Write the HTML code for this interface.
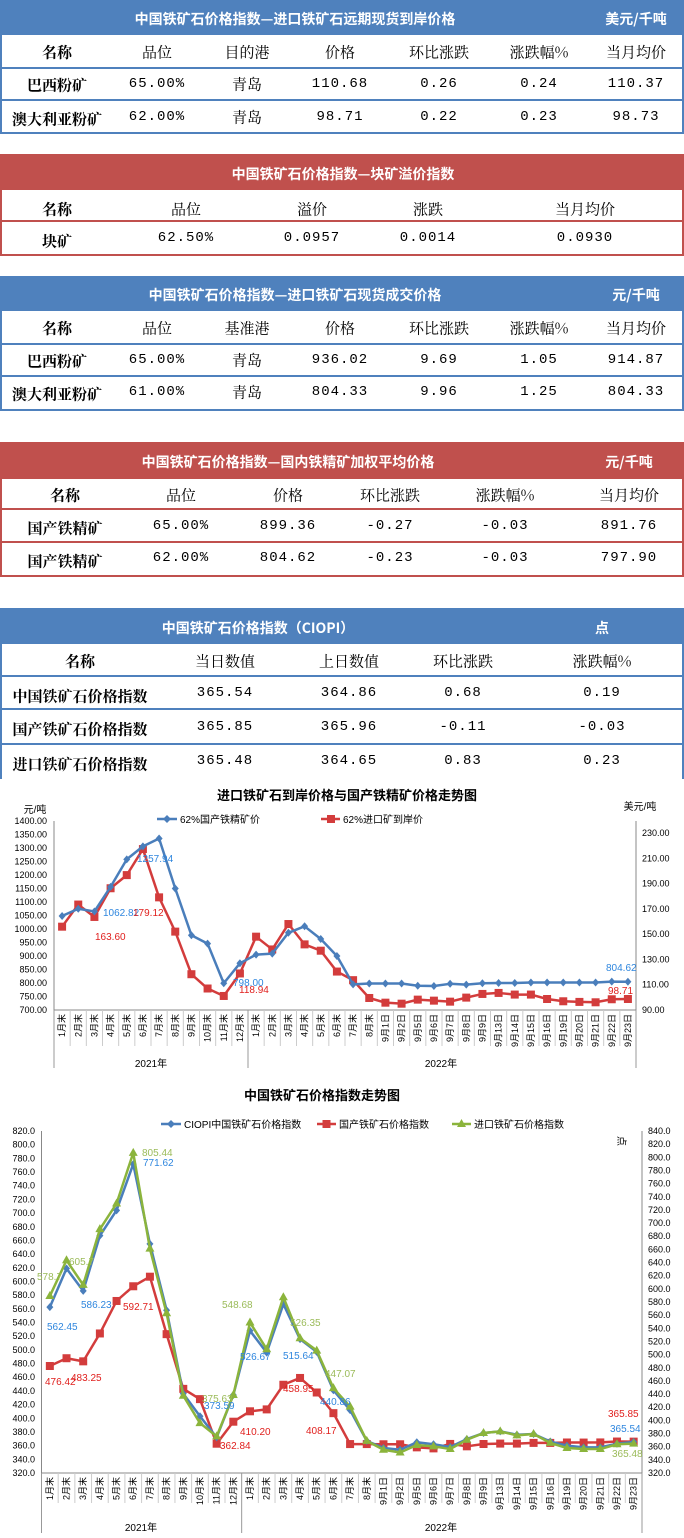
<!DOCTYPE html>
<html><head><meta charset="utf-8">
<style>
*{margin:0;padding:0;box-sizing:border-box}
body{width:684px;height:1538px;position:relative;background:#fff;overflow:hidden;font-family:"Liberation Sans","Noto Sans CJK SC",sans-serif}
.band{position:absolute;left:0;width:684px}
.blue{background:#4f81bd}.red{background:#c0504d}
.box{position:absolute;left:0;width:684px;border:2px solid}
.hl{position:absolute;left:0;width:684px;height:2px}
.t{position:absolute;transform:translate(-50%,-50%);white-space:nowrap;color:#000}
.bt{color:#fff;font-weight:bold;font-size:14px;font-family:"Noto Sans CJK SC",sans-serif}
.h{font-size:15px;font-family:"Noto Serif CJK SC","Noto Sans CJK SC",serif}
.hb{font-size:15px;font-weight:bold;font-family:"Noto Serif CJK SC","Noto Sans CJK SC",serif}
.d{font-size:14px;font-family:"Liberation Mono","Noto Sans CJK SC",monospace;letter-spacing:1px}
.l{font-size:15px;font-weight:bold;font-family:"Noto Serif CJK SC","Noto Sans CJK SC",serif}
svg{position:absolute;left:0;top:0}
svg text{font-family:"Liberation Sans","Noto Sans CJK SC",sans-serif}
</style></head><body>

<!-- Table 1 -->
<div class="band blue" style="top:0;height:34px"></div>
<div class="box" style="top:33px;height:101px;border-color:#4f81bd"></div>
<div class="hl" style="top:67px;background:#4f81bd"></div>
<div class="hl" style="top:99px;background:#4f81bd"></div>
<span class="t bt" style="left:295px;top:19px">中国铁矿石价格指数—进口铁矿石远期现货到岸价格</span>
<span class="t bt" style="left:636px;top:19px">美元/千吨</span>
<span class="t hb" style="left:57px;top:52px">名称</span>
<span class="t h" style="left:157px;top:52px">品位</span>
<span class="t h" style="left:247px;top:52px">目的港</span>
<span class="t h" style="left:340px;top:52px">价格</span>
<span class="t h" style="left:439px;top:52px">环比涨跌</span>
<span class="t h" style="left:539px;top:52px">涨跌幅%</span>
<span class="t h" style="left:636px;top:52px">当月均价</span>
<span class="t l" style="left:57px;top:85px">巴西粉矿</span>
<span class="t d" style="left:157px;top:84px">65.00%</span>
<span class="t h" style="left:247px;top:84px">青岛</span>
<span class="t d" style="left:340px;top:84px">110.68</span>
<span class="t d" style="left:439px;top:84px">0.26</span>
<span class="t d" style="left:539px;top:84px">0.24</span>
<span class="t d" style="left:636px;top:84px">110.37</span>
<span class="t l" style="left:57px;top:119px">澳大利亚粉矿</span>
<span class="t d" style="left:157px;top:117px">62.00%</span>
<span class="t h" style="left:247px;top:117px">青岛</span>
<span class="t d" style="left:340px;top:117px">98.71</span>
<span class="t d" style="left:439px;top:117px">0.22</span>
<span class="t d" style="left:539px;top:117px">0.23</span>
<span class="t d" style="left:636px;top:117px">98.73</span>

<!-- Table 2 -->
<div class="band red" style="top:154px;height:35px"></div>
<div class="box" style="top:188px;height:68px;border-color:#c0504d"></div>
<div class="hl" style="top:220px;background:#c0504d"></div>
<span class="t bt" style="left:343px;top:174px">中国铁矿石价格指数—块矿溢价指数</span>
<span class="t hb" style="left:57px;top:209px">名称</span>
<span class="t h" style="left:186px;top:209px">品位</span>
<span class="t h" style="left:312px;top:209px">溢价</span>
<span class="t h" style="left:428px;top:209px">涨跌</span>
<span class="t h" style="left:585px;top:209px">当月均价</span>
<span class="t l" style="left:57px;top:241px">块矿</span>
<span class="t d" style="left:186px;top:238px">62.50%</span>
<span class="t d" style="left:312px;top:238px">0.0957</span>
<span class="t d" style="left:428px;top:238px">0.0014</span>
<span class="t d" style="left:585px;top:238px">0.0930</span>

<!-- Table 3 -->
<div class="band blue" style="top:276px;height:34px"></div>
<div class="box" style="top:309px;height:102px;border-color:#4f81bd"></div>
<div class="hl" style="top:343px;background:#4f81bd"></div>
<div class="hl" style="top:375px;background:#4f81bd"></div>
<span class="t bt" style="left:295px;top:295px">中国铁矿石价格指数—进口铁矿石现货成交价格</span>
<span class="t bt" style="left:636px;top:295px">元/千吨</span>
<span class="t hb" style="left:57px;top:328px">名称</span>
<span class="t h" style="left:157px;top:328px">品位</span>
<span class="t h" style="left:247px;top:328px">基准港</span>
<span class="t h" style="left:340px;top:328px">价格</span>
<span class="t h" style="left:439px;top:328px">环比涨跌</span>
<span class="t h" style="left:539px;top:328px">涨跌幅%</span>
<span class="t h" style="left:636px;top:328px">当月均价</span>
<span class="t l" style="left:57px;top:361px">巴西粉矿</span>
<span class="t d" style="left:157px;top:360px">65.00%</span>
<span class="t h" style="left:247px;top:360px">青岛</span>
<span class="t d" style="left:340px;top:360px">936.02</span>
<span class="t d" style="left:439px;top:360px">9.69</span>
<span class="t d" style="left:539px;top:360px">1.05</span>
<span class="t d" style="left:636px;top:360px">914.87</span>
<span class="t l" style="left:57px;top:394px">澳大利亚粉矿</span>
<span class="t d" style="left:157px;top:392px">61.00%</span>
<span class="t h" style="left:247px;top:392px">青岛</span>
<span class="t d" style="left:340px;top:392px">804.33</span>
<span class="t d" style="left:439px;top:392px">9.96</span>
<span class="t d" style="left:539px;top:392px">1.25</span>
<span class="t d" style="left:636px;top:392px">804.33</span>

<!-- Table 4 -->
<div class="band red" style="top:442px;height:36px"></div>
<div class="box" style="top:477px;height:100px;border-color:#c0504d"></div>
<div class="hl" style="top:508px;background:#c0504d"></div>
<div class="hl" style="top:541px;background:#c0504d"></div>
<span class="t bt" style="left:288px;top:462px">中国铁矿石价格指数—国内铁精矿加权平均价格</span>
<span class="t bt" style="left:629px;top:462px">元/千吨</span>
<span class="t hb" style="left:65px;top:495px">名称</span>
<span class="t h" style="left:181px;top:495px">品位</span>
<span class="t h" style="left:288px;top:495px">价格</span>
<span class="t h" style="left:390px;top:495px">环比涨跌</span>
<span class="t h" style="left:505px;top:495px">涨跌幅%</span>
<span class="t h" style="left:629px;top:495px">当月均价</span>
<span class="t l" style="left:65px;top:528px">国产铁精矿</span>
<span class="t d" style="left:181px;top:526px">65.00%</span>
<span class="t d" style="left:288px;top:526px">899.36</span>
<span class="t d" style="left:390px;top:526px">-0.27</span>
<span class="t d" style="left:505px;top:526px">-0.03</span>
<span class="t d" style="left:629px;top:526px">891.76</span>
<span class="t l" style="left:65px;top:561px">国产铁精矿</span>
<span class="t d" style="left:181px;top:558px">62.00%</span>
<span class="t d" style="left:288px;top:558px">804.62</span>
<span class="t d" style="left:390px;top:558px">-0.23</span>
<span class="t d" style="left:505px;top:558px">-0.03</span>
<span class="t d" style="left:629px;top:558px">797.90</span>

<!-- Table 5 -->
<div class="band blue" style="top:608px;height:36px"></div>
<div style="position:absolute;left:0;top:643px;width:684px;height:136px;border-left:2px solid #4f81bd;border-right:2px solid #4f81bd"></div>
<div class="hl" style="top:675px;background:#4f81bd"></div>
<div class="hl" style="top:708px;background:#4f81bd"></div>
<div class="hl" style="top:743px;background:#4f81bd"></div>
<span class="t bt" style="left:258px;top:628px">中国铁矿石价格指数（CIOPI）</span>
<span class="t bt" style="left:602px;top:628px">点</span>
<span class="t hb" style="left:80px;top:661px">名称</span>
<span class="t h" style="left:225px;top:661px">当日数值</span>
<span class="t h" style="left:349px;top:661px">上日数值</span>
<span class="t h" style="left:463px;top:661px">环比涨跌</span>
<span class="t h" style="left:602px;top:661px">涨跌幅%</span>
<span class="t l" style="left:80px;top:696px">中国铁矿石价格指数</span>
<span class="t d" style="left:225px;top:693px">365.54</span>
<span class="t d" style="left:349px;top:693px">364.86</span>
<span class="t d" style="left:463px;top:693px">0.68</span>
<span class="t d" style="left:602px;top:693px">0.19</span>
<span class="t l" style="left:80px;top:729px">国产铁矿石价格指数</span>
<span class="t d" style="left:225px;top:727px">365.85</span>
<span class="t d" style="left:349px;top:727px">365.96</span>
<span class="t d" style="left:463px;top:727px">-0.11</span>
<span class="t d" style="left:602px;top:727px">-0.03</span>
<span class="t l" style="left:80px;top:764px">进口铁矿石价格指数</span>
<span class="t d" style="left:225px;top:761px">365.48</span>
<span class="t d" style="left:349px;top:761px">364.65</span>
<span class="t d" style="left:463px;top:761px">0.83</span>
<span class="t d" style="left:602px;top:761px">0.23</span>

<svg width="684" height="1538" viewBox="0 0 684 1538">
<!-- Chart 1 -->
<g id="c1axes" stroke="#888" stroke-width="1" fill="none"></g>
<text x="347" y="800" text-anchor="middle" font-size="13" font-weight="bold">进口铁矿石到岸价格与国产铁精矿价格走势图</text>
<text x="35" y="813" text-anchor="middle" font-size="10">元/吨</text>
<text x="640" y="810" text-anchor="middle" font-size="10">美元/吨</text>
<line x1="157" y1="819" x2="177" y2="819" stroke="#4a7ebb" stroke-width="2.5"/>
<path d="M167 815 L171 819 L167 823 L163 819Z" fill="#4a7ebb"/>
<text x="180" y="823" font-size="10">62%国产铁精矿价</text>
<line x1="321" y1="819" x2="340" y2="819" stroke="#d33c3c" stroke-width="2.5"/>
<rect x="327" y="815" width="8" height="8" fill="#d33c3c"/>
<text x="343" y="823" font-size="10">62%进口矿到岸价</text>
<g font-size="9" text-anchor="end">
<text x="47" y="824">1400.00</text><text x="47" y="837.5">1350.00</text><text x="47" y="851">1300.00</text><text x="47" y="864.5">1250.00</text><text x="47" y="878">1200.00</text><text x="47" y="891.5">1150.00</text><text x="47" y="905">1100.00</text><text x="47" y="918.5">1050.00</text><text x="47" y="932">1000.00</text><text x="47" y="945.5">950.00</text><text x="47" y="959">900.00</text><text x="47" y="972.5">850.00</text><text x="47" y="986">800.00</text><text x="47" y="999.5">750.00</text><text x="47" y="1013">700.00</text>
</g>
<g font-size="9" text-anchor="start">
<text x="642" y="836">230.00</text><text x="642" y="861.3">210.00</text><text x="642" y="886.6">190.00</text><text x="642" y="911.9">170.00</text><text x="642" y="937.1">150.00</text><text x="642" y="962.4">130.00</text><text x="642" y="987.7">110.00</text><text x="642" y="1013">90.00</text>
</g>
<g id="c1labels" font-size="9" text-anchor="end">
<text>1月末</text><text>2月末</text><text>3月末</text><text>4月末</text><text>5月末</text><text>6月末</text><text>7月末</text><text>8月末</text><text>9月末</text><text>10月末</text><text>11月末</text><text>12月末</text><text>1月末</text><text>2月末</text><text>3月末</text><text>4月末</text><text>5月末</text><text>6月末</text><text>7月末</text><text>8月末</text><text>9月1日</text><text>9月2日</text><text>9月5日</text><text>9月6日</text><text>9月7日</text><text>9月8日</text><text>9月9日</text><text>9月13日</text><text>9月14日</text><text>9月15日</text><text>9月16日</text><text>9月19日</text><text>9月20日</text><text>9月21日</text><text>9月22日</text><text>9月23日</text>
</g>
<text x="151" y="1067" text-anchor="middle" font-size="10">2021年</text>
<text x="441" y="1067" text-anchor="middle" font-size="10">2022年</text>
<g id="c1series"></g>
<g font-size="10">
<text x="103" y="916" fill="#2e86de">1062.82</text>
<text x="133" y="916" fill="#e0201e">179.12</text>
<text x="95" y="940" fill="#e0201e">163.60</text>
<text x="137" y="862" fill="#2e86de">1257.94</text>
<text x="233" y="986" fill="#2e86de">798.00</text>
<text x="239" y="993" fill="#e0201e">118.94</text>
<text x="606" y="971" fill="#2e86de">804.62</text>
<text x="608" y="994" fill="#e0201e">98.71</text>
</g>

<!-- Chart 2 -->
<g id="c2axes" stroke="#888" stroke-width="1" fill="none"></g>
<text x="322" y="1100" text-anchor="middle" font-size="13" font-weight="bold">中国铁矿石价格指数走势图</text>
<line x1="161" y1="1124" x2="181" y2="1124" stroke="#4a7ebb" stroke-width="2.5"/>
<path d="M171 1120 L175 1124 L171 1128 L167 1124Z" fill="#4a7ebb"/>
<text x="184" y="1128" font-size="10">CIOPI中国铁矿石价格指数</text>
<line x1="317" y1="1124" x2="336" y2="1124" stroke="#d33c3c" stroke-width="2.5"/>
<rect x="322.5" y="1120" width="8" height="8" fill="#d33c3c"/>
<text x="339" y="1128" font-size="10">国产铁矿石价格指数</text>
<line x1="452" y1="1124" x2="471" y2="1124" stroke="#8bb43c" stroke-width="2.5"/>
<path d="M461.5 1119 L466 1127 L457 1127Z" fill="#8bb43c"/>
<text x="474" y="1128" font-size="10">进口铁矿石价格指数</text>
<text transform="translate(618,1141) rotate(90)" font-size="10" text-anchor="middle">点</text>
<g id="c2left" font-size="9" text-anchor="end"></g>
<g font-size="9" text-anchor="end">
<text x="35" y="1134">820.0</text><text x="35" y="1147.7">800.0</text><text x="35" y="1161.4">780.0</text><text x="35" y="1175">760.0</text><text x="35" y="1188.7">740.0</text><text x="35" y="1202.4">720.0</text><text x="35" y="1216.1">700.0</text><text x="35" y="1229.8">680.0</text><text x="35" y="1243.4">660.0</text><text x="35" y="1257.1">640.0</text><text x="35" y="1270.8">620.0</text><text x="35" y="1284.5">600.0</text><text x="35" y="1298.2">580.0</text><text x="35" y="1311.8">560.0</text><text x="35" y="1325.5">540.0</text><text x="35" y="1339.2">520.0</text><text x="35" y="1352.9">500.0</text><text x="35" y="1366.6">480.0</text><text x="35" y="1380.2">460.0</text><text x="35" y="1393.9">440.0</text><text x="35" y="1407.6">420.0</text><text x="35" y="1421.3">400.0</text><text x="35" y="1435">380.0</text><text x="35" y="1448.6">360.0</text><text x="35" y="1462.3">340.0</text><text x="35" y="1476">320.0</text>
</g>
<g font-size="9" text-anchor="start">
<text x="648" y="1134">840.0</text><text x="648" y="1147.2">820.0</text><text x="648" y="1160.3">800.0</text><text x="648" y="1173.5">780.0</text><text x="648" y="1186.6">760.0</text><text x="648" y="1199.8">740.0</text><text x="648" y="1212.9">720.0</text><text x="648" y="1226.1">700.0</text><text x="648" y="1239.2">680.0</text><text x="648" y="1252.4">660.0</text><text x="648" y="1265.5">640.0</text><text x="648" y="1278.7">620.0</text><text x="648" y="1291.8">600.0</text><text x="648" y="1305">580.0</text><text x="648" y="1318.2">560.0</text><text x="648" y="1331.3">540.0</text><text x="648" y="1344.5">520.0</text><text x="648" y="1357.6">500.0</text><text x="648" y="1370.8">480.0</text><text x="648" y="1383.9">460.0</text><text x="648" y="1397.1">440.0</text><text x="648" y="1410.2">420.0</text><text x="648" y="1423.4">400.0</text><text x="648" y="1436.5">380.0</text><text x="648" y="1449.7">360.0</text><text x="648" y="1462.8">340.0</text><text x="648" y="1476">320.0</text>
</g>
<g id="c2labels" font-size="9" text-anchor="end">
<text>1月末</text><text>2月末</text><text>3月末</text><text>4月末</text><text>5月末</text><text>6月末</text><text>7月末</text><text>8月末</text><text>9月末</text><text>10月末</text><text>11月末</text><text>12月末</text><text>1月末</text><text>2月末</text><text>3月末</text><text>4月末</text><text>5月末</text><text>6月末</text><text>7月末</text><text>8月末</text><text>9月1日</text><text>9月2日</text><text>9月5日</text><text>9月6日</text><text>9月7日</text><text>9月8日</text><text>9月9日</text><text>9月13日</text><text>9月14日</text><text>9月15日</text><text>9月16日</text><text>9月19日</text><text>9月20日</text><text>9月21日</text><text>9月22日</text><text>9月23日</text>
</g>
<text x="141" y="1531" text-anchor="middle" font-size="10">2021年</text>
<text x="441" y="1531" text-anchor="middle" font-size="10">2022年</text>
<g id="c2series"></g>
<g font-size="10">
<text x="37" y="1280" fill="#9bbb59">578.7</text>
<text x="69" y="1265" fill="#9bbb59">605.7</text>
<text x="142" y="1156" fill="#9bbb59">805.44</text>
<text x="143" y="1166" fill="#2e86de">771.62</text>
<text x="47" y="1330" fill="#2e86de">562.45</text>
<text x="81" y="1308" fill="#2e86de">586.23</text>
<text x="123" y="1310" fill="#e0201e">592.71</text>
<text x="45" y="1385" fill="#e0201e">476.42</text>
<text x="71" y="1381" fill="#e0201e">483.25</text>
<text x="222" y="1308" fill="#9bbb59">548.68</text>
<text x="290" y="1326" fill="#9bbb59">526.35</text>
<text x="240" y="1360" fill="#2e86de">526.67</text>
<text x="283" y="1359" fill="#2e86de">515.64</text>
<text x="325" y="1377" fill="#9bbb59">447.07</text>
<text x="283" y="1392" fill="#e0201e">458.95</text>
<text x="202" y="1402" fill="#9bbb59">375.63</text>
<text x="204" y="1409" fill="#2e86de">373.59</text>
<text x="320" y="1405" fill="#2e86de">440.86</text>
<text x="220" y="1449" fill="#e0201e">362.84</text>
<text x="240" y="1435" fill="#e0201e">410.20</text>
<text x="306" y="1434" fill="#e0201e">408.17</text>
<text x="608" y="1417" fill="#e0201e">365.85</text>
<text x="610" y="1432" fill="#2e86de">365.54</text>
<text x="612" y="1457" fill="#9bbb59">365.48</text>
</g>
</svg>
<script>
(function(){
var NS="http://www.w3.org/2000/svg";
function el(p,tag,a){var e=document.createElementNS(NS,tag);for(var k in a)e.setAttribute(k,a[k]);p.appendChild(e);return e;}
function setup(axId,lblId,x0,x1,yTop,yBot,lblEnd,yearEnd,rightX){
 var ax=document.getElementById(axId),n=36,w=(x1-x0)/n;
 el(ax,'line',{x1:x0,y1:yTop,x2:x0,y2:yBot});
 el(ax,'line',{x1:rightX,y1:yTop,x2:rightX,y2:yBot});
 el(ax,'line',{x1:x0,y1:yBot,x2:x1,y2:yBot});
 for(var i=0;i<=n;i++){var x=x0+i*w;var big=(i==0||i==12||i==36);
  el(ax,'line',{x1:x,y1:yBot,x2:x,y2:big?yearEnd:lblEnd,stroke:big?'#999':'#ccc'});}
 var ts=document.getElementById(lblId).getElementsByTagName('text');
 for(var i=0;i<ts.length;i++){var x=x0+(i+0.5)*w+3;ts[i].setAttribute('transform','translate('+x+','+(yBot+4)+') rotate(-90)');}
 return w;
}
function series(g,xs,ys,color,mk){
 var pts=xs.map(function(x,i){return x+','+ys[i]}).join(' ');
 el(g,'polyline',{points:pts,fill:'none',stroke:color,'stroke-width':2.5,'stroke-linejoin':'round'});
 xs.forEach(function(x,i){var y=ys[i];
  if(mk=='d')el(g,'path',{d:'M'+x+' '+(y-4)+'L'+(x+3.5)+' '+y+'L'+x+' '+(y+4)+'L'+(x-3.5)+' '+y+'Z',fill:color});
  else if(mk=='s')el(g,'rect',{x:x-4,y:y-4,width:8,height:8,fill:color});
  else el(g,'path',{d:'M'+x+' '+(y-5)+'L'+(x+4.5)+' '+(y+3)+'L'+(x-4.5)+' '+(y+3)+'Z',fill:color});
 });
}
// chart 1
var w1=setup('c1axes','c1labels',54,636,821,1010,1046,1068,636);
var xs1=[];for(var i=0;i<36;i++)xs1.push(54+(i+0.5)*w1);
var b1=[1048,1075,1065,1156,1258,1306,1335,1150,977,946,799,873,905,909,986,1010,963,900,795,798,798,798,790,789,797,794,799,800,800,802,802,802,802,802,805,804.62];
var r1=[155.9,173.4,163.6,186.3,196.7,217.3,179.1,152,118.3,107,101.1,118.9,148,137.9,158,141.9,136.9,120.4,113.6,99.5,95.8,95,98.2,97.4,96.6,99.8,102.7,103.5,102.2,102.2,98.7,96.9,96.4,96.1,98.5,98.71];
var g1=document.getElementById('c1series');
series(g1,xs1,r1.map(function(v){return 1010-(v-90)*177/140}),'#d33c3c','s');
series(g1,xs1,b1.map(function(v){return 821+(1400-v)*189/700}),'#4a7ebb','d');
// chart 2
var w2=setup('c2axes','c2labels',41.5,642,1131,1473,1503,1533,642);
var xs2=[];for(var i=0;i<36;i++)xs2.push(41.5+(i+0.5)*w2);
var f=function(v){return 1131+(820-v)*0.684};
var B=[562.45,619,586.23,667,704,771.62,655,558,436,403,372,434,528,496,567,515.64,497,441,412,367,356.5,354,365,362,358,369.6,378.4,380.8,376,377,366,360,357.5,357.5,362.8,365.54];
var R=[476.42,487.8,483.25,524,571.5,593,607,523,443,428,362.84,395,410.2,413,449,458.95,437.7,407.5,362.3,362.3,362,362,357.5,356,362.5,359,362.4,363,363,364,364,364.6,364.5,364.7,366,365.85];
var G=[578.7,631,595,676.5,714,788,648,553.5,433,393,373.5,434,540,501,577,517,499,444,417,367,354,350,361,359,355,368.6,378.4,380.8,375,377,364,356.5,355,355,362,363];
var g2=document.getElementById('c2series');
series(g2,xs2,R.map(f),'#d33c3c','s');
series(g2,xs2,B.map(f),'#4a7ebb','d');
series(g2,xs2,G.map(f),'#8bb43c','t');
})();
</script>
</body></html>
